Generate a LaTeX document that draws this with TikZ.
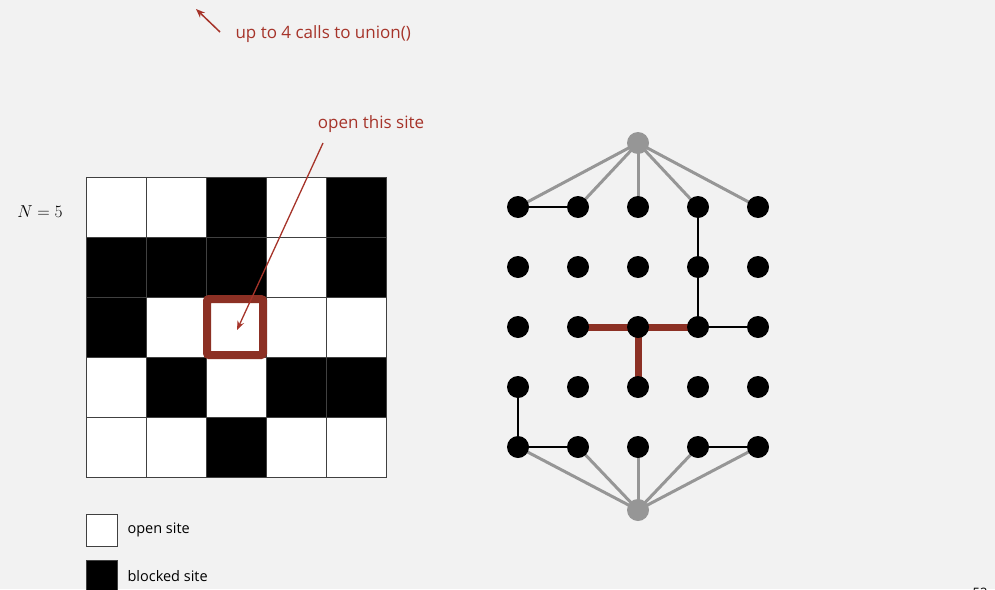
\documentclass[tikz,border=0pt]{standalone}
\usepackage{fontspec}
\setmainfont{Open Sans}
\definecolor{bg}{RGB}{242,242,242}
\definecolor{darkred}{RGB}{140,48,36}
\definecolor{txtred}{RGB}{166,52,42}
\definecolor{vgray}{RGB}{150,150,150}
\usetikzlibrary{arrows.meta}
\begin{document}
\begin{tikzpicture}[x=1pt,y=-1pt,
  site/.style={circle,fill=black,minimum size=22pt,inner sep=0pt},
  vsite/.style={circle,fill=vgray,minimum size=22pt,inner sep=0pt},
  gedge/.style={vgray,line width=3pt},
  bedge/.style={black,line width=2.5pt},
  redge/.style={darkred,line width=7pt},
  cellw/.style={fill=white,draw=black!75,line width=1pt},
  cellb/.style={fill=black,draw=black!75,line width=1pt},
  redlabel/.style={text=txtred,font=\fontsize{17}{20}\selectfont},
  redarrow/.style={txtred,line width=1.5pt,-{Stealth[length=9pt,width=7pt]}},
  legend/.style={font=\fontsize{14.5}{17}\selectfont,anchor=west}]
\fill[bg] (0,0) rectangle (995,589);
\useasboundingbox (0,0) rectangle (995,589);
% top annotation
\coordinate (ua) at (220,32);
\coordinate (ub) at (196,9);
\node[redlabel,anchor=west] (ulab) at (232,34) {up to 4 calls to union()};
\draw[redarrow] (ua) -- (ub);
% N = 5
\node (nlab) at (40,212) {\fontsize{16}{18}\selectfont $N = 5$};
% grid
\foreach \r/\row in {1/{0,0,1,0,1},2/{1,1,1,0,1},3/{1,0,0,0,0},4/{0,1,0,1,1},5/{0,0,1,0,0}}{
  \foreach \v [count=\c] in \row {
    \ifnum\v=1
      \draw[cellb] ({86+60*(\c-1)},{177+60*(\r-1)}) rectangle ++(60,60);
    \else
      \draw[cellw] ({86+60*(\c-1)},{177+60*(\r-1)}) rectangle ++(60,60);
    \fi
  }
}
\draw[darkred,line width=8pt,rounded corners=2pt] (207,299) rectangle (263,355);
\node[redlabel] (olab) at (371,124) {open this site};
\coordinate (oa) at (323,143);
\coordinate (ob) at (237,330);
\draw[redarrow,line width=1.3pt] (oa) -- (ob);
% graph nodes
\foreach \r in {1,...,5}{
  \foreach \c in {1,...,5}{
    \coordinate (p\r\c) at ({518+60*(\c-1)},{207+60*(\r-1)});
  }
}
\coordinate (ptop) at (638,143);
\coordinate (pbot) at (638,510);
% gray edges
\foreach \c in {1,...,5}{
  \draw[gedge] (ptop) -- (p1\c);
  \draw[gedge] (pbot) -- (p5\c);
}
% black edges
\draw[bedge] (p11) -- (p12);
\draw[bedge] (p14) -- (p24);
\draw[bedge] (p24) -- (p34);
\draw[bedge] (p34) -- (p35);
\draw[bedge] (p41) -- (p51);
\draw[bedge] (p51) -- (p52);
\draw[bedge] (p54) -- (p55);
% red edges
\draw[redge] (p32) -- (p33);
\draw[redge] (p33) -- (p34);
\draw[redge] (p33) -- (p43);
% nodes on top
\foreach \r in {1,...,5}{
  \foreach \c in {1,...,5}{
    \node[site] (s\r\c) at (p\r\c) {};
  }
}
\node[vsite] (top) at (ptop) {};
\node[vsite] (bot) at (pbot) {};
% legend
\draw[fill=white,draw=black!75,line width=1pt] (86,514) rectangle (117,546);
\node[legend] (lo) at (124,530) {open site};
\draw[fill=black,draw=black!75,line width=1pt] (86,560) rectangle (117,592);
\node[legend] (lb) at (124,576) {blocked site};
\node[font=\fontsize{13}{15}\selectfont] (pg) at (980,593) {52};
\end{tikzpicture}
\end{document}
